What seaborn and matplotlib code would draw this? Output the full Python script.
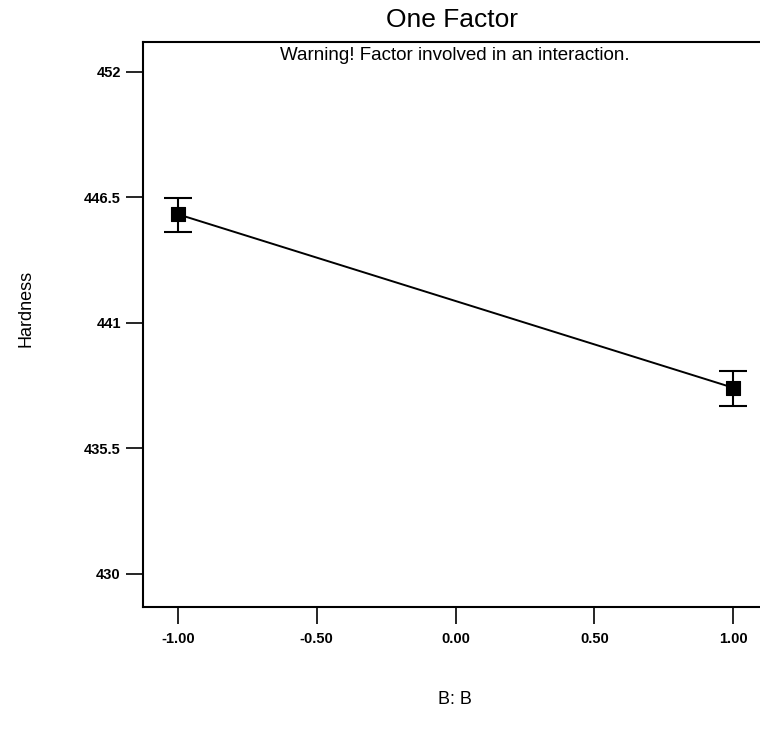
import matplotlib
matplotlib.use("Agg")
import matplotlib.pyplot as plt
import seaborn as sns
import pandas as pd

# data
factor_levels = [-1.0, 1.0]
hardness = [445.76, 438.16]
err_low = [0.78, 0.80]
err_high = [0.70, 0.72]
x_ticks = [-1.0, -0.5, 0.0, 0.5, 1.0]
x_tick_labels = ["-1.00", "-0.50", "0.00", "0.50", "1.00"]
y_ticks = [430, 435.5, 441, 446.5, 452]
y_tick_labels = ["430", "435.5", "441", "446.5", "452"]

df = pd.DataFrame({"B": factor_levels, "Hardness": hardness})

sns.set_theme(style="white")
plt.rcParams["font.family"] = ["Liberation Sans", "DejaVu Sans"]
plt.rcParams["text.color"] = "black"
plt.rcParams["axes.labelcolor"] = "black"
plt.rcParams["xtick.color"] = "black"
plt.rcParams["ytick.color"] = "black"

W, H = 760, 730
fig = plt.figure(figsize=(W / 100, H / 100), dpi=100)
left, top, bottom, right = 143, 42, 607, 760
ax = fig.add_axes([left / W, 1 - bottom / H, (right - left) / W, (bottom - top) / H])

sns.lineplot(data=df, x="B", y="Hardness", ax=ax, color="black", linewidth=1.4)
ax.errorbar(factor_levels, hardness, yerr=[err_low, err_high], fmt="none",
            ecolor="black", elinewidth=1.5, capsize=10, capthick=1.5)
sns.scatterplot(data=df, x="B", y="Hardness", ax=ax, marker="s", s=100,
                color="black", edgecolor="black", zorder=5)

ax.set_xlim(-1.126, 1.097)
ax.set_ylim(428.55, 453.31)
ax.set_xticks(x_ticks)
ax.set_xticklabels(x_tick_labels, fontsize=10.5, fontweight="bold", color="black")
ax.set_yticks(y_ticks)
ax.set_yticklabels(y_tick_labels, fontsize=10.5, fontweight="bold", color="black")
ax.tick_params(axis="both", direction="out", length=12, width=1.2,
               color="black", bottom=True, left=True, pad=4)
ax.tick_params(axis="x", pad=6)

for side in ["left", "bottom", "top"]:
    ax.spines[side].set_visible(True)
    ax.spines[side].set_color("black")
    ax.spines[side].set_linewidth(1.5)
ax.spines["right"].set_visible(False)

ax.set_xlabel("")
ax.set_ylabel("")
fig.text(455 / W, 1 - 700 / H, "B: B", ha="center", va="center", fontsize=13, color="black")
fig.text(26 / W, 1 - 308 / H, "Hardness", ha="center", va="center",
         rotation=90, fontsize=13, color="black")
fig.text(452 / W, 1 - 20 / H, "One Factor", ha="center", va="center", fontsize=19,
         color="black")
fig.text(455 / W, 1 - 56 / H, "Warning! Factor involved in an interaction.",
         ha="center", va="center", fontsize=13.5, color="black")

fig.savefig("out.png", dpi=100)
